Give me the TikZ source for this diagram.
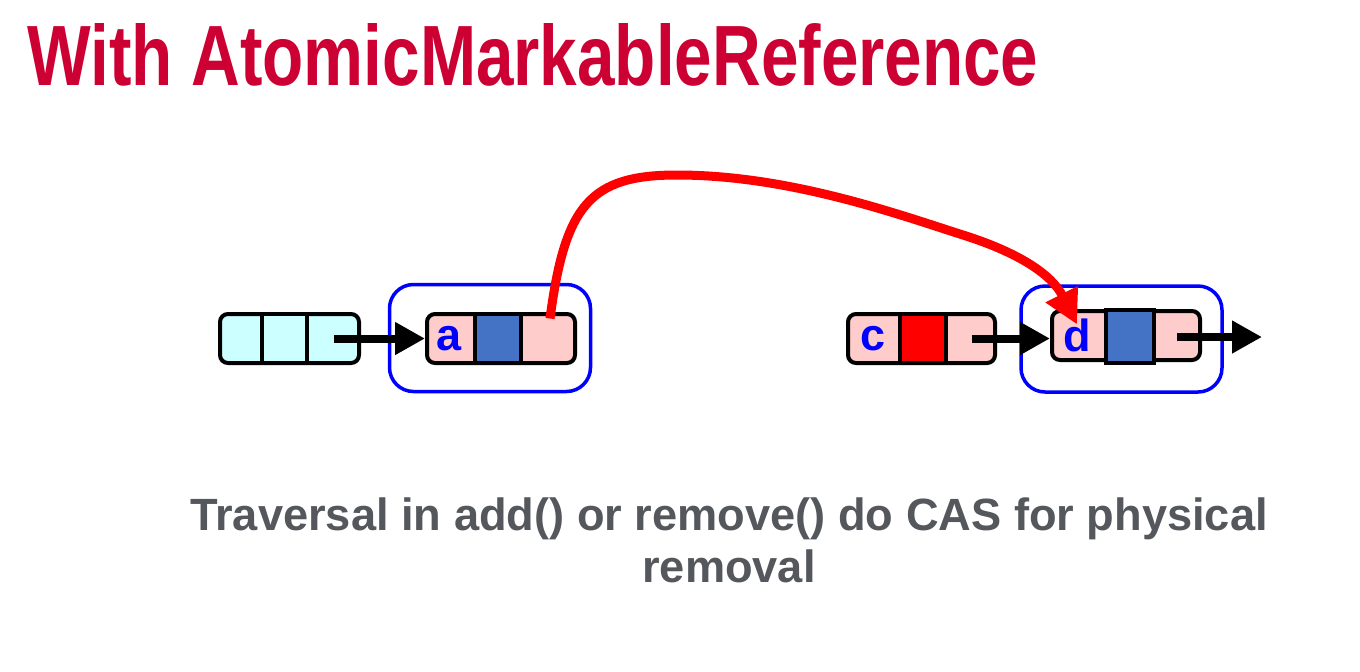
\documentclass[tikz,border=0pt]{standalone}
\usepackage{graphicx}
\usepackage{xcolor}
\usepackage{fontspec}
\setmainfont{Liberation Sans}
\usepackage{tikz}
\usetikzlibrary{arrows.meta,positioning}

\definecolor{titlered}{HTML}{CC0033}
\definecolor{cellcyan}{HTML}{CCFFFF}
\definecolor{cellpink}{HTML}{FFCCCC}
\definecolor{markblue}{HTML}{4472C4}
\definecolor{captiongray}{HTML}{54575C}

\tikzset{
  lnode/.style={draw,line width=2pt,rounded corners=4pt,minimum width=74pt,minimum height=24.5pt,inner sep=0pt},
  mcell/.style={draw,line width=2pt,minimum width=23pt,minimum height=24.5pt,inner sep=0pt},
  key/.style={text=blue,font=\bfseries\fontsize{22.5pt}{22.5pt}\selectfont,inner sep=0pt},
  window/.style={draw=blue,line width=1.75pt,rounded corners=12pt,minimum width=100.5pt,minimum height=53.5pt},
  nextptr/.style={line width=4pt,-{Triangle[length=15pt,width=15.5pt]}},
}

\begin{document}
\begin{tikzpicture}[x=0.5pt,y=-0.5pt]
    \useasboundingbox (0,0) rectangle (1360,671);

    \node[anchor=base west,inner sep=0pt,text=titlered] (title) at (27,85)
        {\resizebox{505.5pt}{31pt}{\bfseries With AtomicMarkableReference}};

    % pred
    \node[lnode,fill=cellcyan,minimum width=69.5pt] (pred) at (289.5,338.5) {};
    \node[mcell,fill=cellcyan,minimum width=22.5pt] (predmark) at (284.5,338.5) {};
    \node (predkey) at (240,338.5) {};
    \node (prednext) at (334,338.5) {};

    % a
    \node[window] (wina) at (490,338) {};
    \node[lnode,fill=cellpink] (a) at (501,338.5) {};
    \node[mcell,fill=markblue] (amark) at (498,338.5) {};
    \node[key] (akey) at (449.5,338.5) {a};
    \node (anext) at (550,338.5) {};

    % c
    \node[lnode,fill=cellpink,minimum width=73.5pt] (c) at (921.5,338.5) {};
    \node[mcell,fill=red] (cmark) at (923,338.5) {};
    \node[key] (ckey) at (873,338.5) {c};
    \node (cnext) at (972,338.5) {};

    % d
    \node[window,minimum height=53pt] (wind) at (1121.5,339) {};
    \node[lnode,fill=cellpink] (d) at (1126,335.5) {};
    \node[mcell,fill=markblue,minimum width=24pt,minimum height=26.5pt] (dmark) at (1129.5,336.5) {};
    \node[key] (dkey) at (1077,335.5) {d};
    \node (dnext) at (1177,337) {};
    \coordinate (dnil) at (1262,337);

    \draw[nextptr] (prednext.center) -- (a.west);
    \draw[nextptr] (cnext.center) -- (cnext -| d.west);
    \draw[nextptr] (dnext.center) -- (dnil);

    % physical removal
    \draw[red,line width=4.5pt,-{Triangle[length=17pt,width=17pt]}]
        ([yshift=10pt]anext.center) .. controls (565,205) and (590,175) .. (677,175)
        .. controls (790,175) and (900,215) .. (963,235)
        .. controls (1020,253) and (1052,275) .. ([yshift=5.5pt]dkey.center);

    \node[align=center,text=captiongray,font=\bfseries\fontsize{22.6pt}{26pt}\selectfont,anchor=base] (caption) at (729,582)
        {Traversal in add() or remove() do CAS for physical\\removal};
\end{tikzpicture}
\end{document}
